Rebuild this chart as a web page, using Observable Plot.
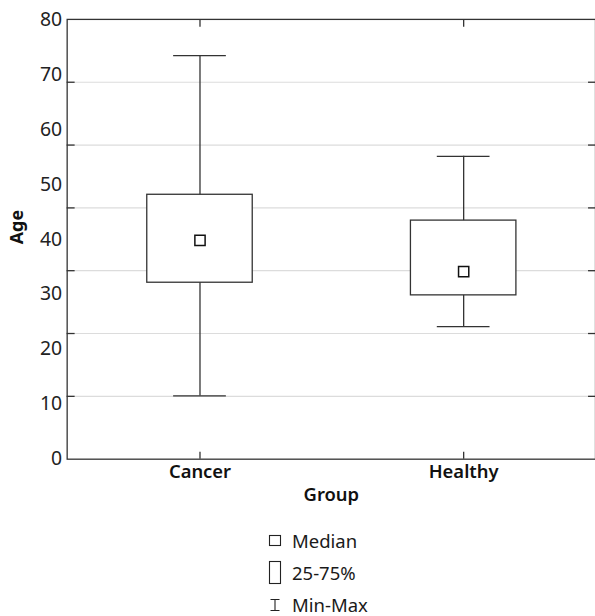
<!DOCTYPE html>
<html>
<head>
<meta charset="utf-8">
<script src="https://cdn.jsdelivr.net/npm/d3@7"></script>
<script src="https://cdn.jsdelivr.net/npm/@observablehq/plot@0.6"></script>
<style>
  html, body { margin: 0; padding: 0; background: #fff; overflow: hidden; width: 595px; height: 616px; }
  #wrap { position: relative; width: 595px; height: 616px; font-family: "Noto Sans", sans-serif; color: #1a1a1a; }
  #legend { position: absolute; left: 268px; top: 520px; }
  .row { position: absolute; left: 0; height: 33px; display: flex; align-items: center; white-space: nowrap; font-size: 18.5px; }
  .row svg { display: block; }
  .row span { position: absolute; left: 24px; }
</style>
</head>
<body>
<div id="wrap">
  <div id="chart"></div>
  <div id="legend"></div>
</div>
<script>
const groups = ["Cancer", "Healthy"];
const minVals = [11.5, 24.1];
const q1Vals = [32.1, 29.8];
const medianVals = [39.8, 34.1];
const q3Vals = [48.1, 43.4];
const maxVals = [73.4, 55.1];
const yTickLabels = [0, 10, 20, 30, 40, 50, 60, 70, 80];
const gridTicks = [11.43, 22.86, 34.29, 45.71, 57.14, 68.57];
const legendItems = ["Median", "25-75%", "Min-Max"];

const data = groups.map((g, i) => ({
  group: g, min: minVals[i], q1: q1Vals[i], median: medianVals[i], q3: q3Vals[i], max: maxVals[i]
}));

const ink = "#333";
const chart = Plot.plot({
  width: 598,
  height: 520,
  marginLeft: 67,
  marginRight: 0,
  marginTop: 19,
  marginBottom: 59,
  style: { fontFamily: "Noto Sans, sans-serif", color: "#1a1a1a", background: "#fff", overflow: "visible" },
  x: { type: "band", domain: groups, padding: 0, label: null },
  y: { domain: [0, 80], label: null },
  marks: [
    Plot.gridY(gridTicks, { stroke: "#dcdcdc", strokeOpacity: 1, strokeWidth: 1.2 }),
    Plot.axisY(gridTicks, { anchor: "left", tickSize: -8, tickFormat: () => "", stroke: ink, strokeWidth: 1.3, label: null }),
    Plot.axisY(gridTicks, { anchor: "right", tickSize: -8, tickFormat: () => "", stroke: ink, strokeWidth: 1.3, label: null }),
    Plot.axisY(yTickLabels, { anchor: "left", tickSize: 0, tickPadding: 5, fontSize: 19.5, fill: "#222", label: null }),
    Plot.axisX({ anchor: "bottom", tickSize: -7, tickFormat: () => "", stroke: ink, strokeWidth: 1.3, label: null }),
    Plot.axisX({ anchor: "top", tickSize: -7, tickFormat: () => "", stroke: ink, strokeWidth: 1.3, label: null }),
    Plot.axisX({ anchor: "bottom", tickSize: 0, tickPadding: 6, fontSize: 18.5, fontWeight: 600, fill: "#111", label: null }),
    Plot.ruleX(data, { x: "group", y1: "min", y2: "max", stroke: ink, strokeWidth: 1.3 }),
    Plot.tickY(data, { x: "group", y: "max", insetLeft: 106, insetRight: 106, stroke: ink, strokeWidth: 1.3 }),
    Plot.tickY(data, { x: "group", y: "min", insetLeft: 106, insetRight: 106, stroke: ink, strokeWidth: 1.3 }),
    Plot.barY(data, { x: "group", y1: "q1", y2: "q3", insetLeft: 79.5, insetRight: 79.5, fill: "#fff", stroke: ink, strokeWidth: 1.3 }),
    Plot.dot(data, { x: "group", y: "median", symbol: "square", r: 5.8, fill: "#fff", stroke: "#111", strokeWidth: 1.5 }),
    Plot.frame({ stroke: ink, strokeWidth: 1.3 }),
    Plot.text(["Group"], { frameAnchor: "bottom", dy: 42, fontSize: 18.5, fontWeight: 600, fill: "#111" }),
    Plot.text(["Age"], { frameAnchor: "left", dx: -50, dy: 5, rotate: -90, fontSize: 18, fontWeight: 700, fill: "#111" })
  ]
});
document.getElementById("chart").appendChild(chart);

// legend
const icons = [
  '<svg width="14" height="14"><rect x="1.5" y="1.5" width="11" height="10" fill="#fff" stroke="#222" stroke-width="1.1"/></svg>',
  '<svg width="14" height="26"><rect x="1.5" y="1.5" width="11" height="22" fill="#fff" stroke="#222" stroke-width="1.1"/></svg>',
  '<svg width="14" height="14"><path d="M2.5,1.5H11.5M7,1.5V12.5M2.5,12.5H11.5" fill="none" stroke="#222" stroke-width="1.1"/></svg>'
];
const legend = document.getElementById("legend");
legendItems.forEach((t, i) => {
  const row = document.createElement("div");
  row.className = "row";
  row.style.top = (4 + i * 32) + "px";
  row.innerHTML = icons[i] + "<span>" + t + "</span>";
  legend.appendChild(row);
});
</script>
</body>
</html>
